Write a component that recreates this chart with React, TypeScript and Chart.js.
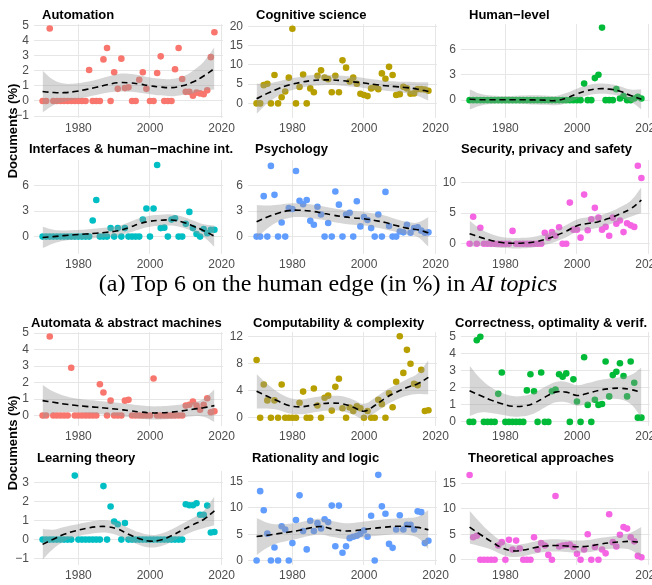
import React, { useEffect, useRef } from "react";
import { Chart, registerables } from "chart.js";

Chart.register(...registerables);

// ---------- shared axes ----------
const YEARS = [1970, 1971, 1972, 1973, 1974, 1975, 1976, 1977, 1978, 1979, 1980, 1981, 1982, 1983, 1984, 1985, 1986, 1987, 1988, 1989, 1990, 1991, 1992, 1993, 1994, 1995, 1996, 1997, 1998, 1999, 2000, 2001, 2002, 2003, 2004, 2005, 2006, 2007, 2008, 2009, 2010, 2011, 2012, 2013, 2014, 2015, 2016, 2017, 2018];
const FIT_YEARS = [1970, 1973, 1976, 1979, 1982, 1985, 1988, 1991, 1994, 1997, 2000, 2003, 2006, 2009, 2012, 2015, 2018];
const X_TICKS = [1980, 2000, 2020];

// ---------- (a) top group ----------
const AUTOMATION_PTS = [0, 0, 4.8, 0, 0, 0, 0, 0, 0, 0, 0, 0, 0, 2.05, 0, 0, 0, 2.75, 3.5, 0, 1.9, 0.8, 2.8, 0.85, 0.9, 0, 0, 1.4, 1.9, 0.8, 0, 0, 1.85, 2.95, 0, 0, 0, 2.1, 3.5, 1.45, 0.6, 0.6, 0.35, 0.55, 0.5, 0.45, 0.7, 2.9, 4.55];
const AUTOMATION_FIT = [0.62, 0.56, 0.55, 0.62, 0.75, 0.9, 1.07, 1.2, 1.2, 1.12, 1.0, 0.92, 0.88, 1.0, 1.25, 1.65, 2.15];
const AUTOMATION_HI = [2.0, 1.4, 1.15, 1.15, 1.25, 1.4, 1.6, 1.78, 1.8, 1.7, 1.55, 1.47, 1.45, 1.6, 2.0, 2.6, 3.55];
const AUTOMATION_LO = [-0.76, -0.28, -0.05, 0.09, 0.25, 0.4, 0.54, 0.62, 0.6, 0.54, 0.45, 0.37, 0.31, 0.4, 0.5, 0.7, 0.75];

const COGNITIVE_PTS = [0, 0, 4.75, 5.1, 0, 7.4, 0, 1.6, 3.1, 6.7, 19.4, 0, 4.25, 7.5, 0, 3.9, 2.9, 7.2, 8.6, 6.7, 6.3, 2.9, 7.2, 2.9, 11.2, 9.3, 5.7, 6.7, 5.1, 2.5, 2.2, 1.9, 3.9, 4.25, 3.7, 7.8, 6.4, 9.5, 7.4, 2.2, 2.4, 4.3, 3.9, 2.5, 2.6, 3.7, 3.7, 3.6, 3.3];
const COGNITIVE_FIT = [1.2, 2.6, 3.8, 4.8, 5.4, 5.9, 6.1, 6.1, 5.9, 5.6, 5.3, 4.9, 4.6, 4.35, 4.1, 3.7, 3.1];
const COGNITIVE_HI = [5.1, 5.2, 5.7, 6.4, 6.85, 7.3, 7.45, 7.4, 7.2, 6.9, 6.6, 6.2, 5.9, 5.7, 5.6, 5.5, 5.5];
const COGNITIVE_LO = [-2.7, 0.0, 1.9, 3.2, 3.95, 4.5, 4.75, 4.8, 4.6, 4.3, 4.0, 3.6, 3.3, 3.0, 2.6, 1.9, 0.7];

const HUMAN_PTS = [0, 0, 0, 0, 0, 0, 0, 0, 0, 0, 0, 0, 0, 0, 0, 0, 0, 0, 0, 0, 0, 0, 0, 0, 0, 0, 0, 0, 0, 0, 0, 0, 1.95, 0, 0, 2.6, 3.0, 8.55, 0, 0, 0, 1.3, 0.2, 0.5, 0, 0, 0.2, 0.4, 0.2];
const HUMAN_FIT = [0.1, 0.05, 0.05, 0.05, 0.05, 0.05, 0.03, 0.0, -0.05, 0.25, 0.75, 1.15, 1.35, 1.3, 1.05, 0.55, 0.1];
const HUMAN_HI = [1.3, 0.75, 0.55, 0.5, 0.5, 0.55, 0.58, 0.55, 0.5, 0.85, 1.35, 1.75, 1.95, 1.9, 1.65, 1.25, 1.3];
const HUMAN_LO = [-1.1, -0.65, -0.45, -0.4, -0.4, -0.45, -0.52, -0.55, -0.6, -0.35, 0.15, 0.55, 0.75, 0.7, 0.45, -0.15, -1.1];

const INTERFACES_PTS = [0, 0, 0, 0, 0, 0, 0, 0, 0, 0, 0, 0, 0, 0, 1.9, 4.3, 0, 0, 0, 1.0, 0, 1.0, 0, 1.0, 0, 0, 0, 0, 2.0, 3.3, 0, 3.3, 8.4, 1.0, 1.05, 0, 2.0, 2.15, 0, 0, 1.5, 2.9, 1.0, 0.3, 0, 0.9, 0.4, 0.8, 0.8];
const INTERFACES_FIT = [-0.1, 0.0, 0.12, 0.22, 0.3, 0.4, 0.52, 0.68, 1.05, 1.5, 1.8, 1.92, 1.95, 1.72, 1.25, 0.7, 0.05];
const INTERFACES_HI = [1.15, 0.8, 0.72, 0.77, 0.85, 0.95, 1.07, 1.23, 1.65, 2.15, 2.45, 2.57, 2.6, 2.37, 1.9, 1.45, 1.3];
const INTERFACES_LO = [-1.35, -0.8, -0.48, -0.33, -0.25, -0.15, -0.03, 0.13, 0.45, 0.85, 1.15, 1.27, 1.3, 1.07, 0.6, -0.05, -1.2];

const PSYCHOLOGY_PTS = [0, 0, 4.75, 0, 8.3, 4.9, 0, 1.65, 0, 3.35, 3.25, 7.7, 4.2, 3.8, 4.3, 1.85, 1.4, 3.5, 2.6, 0, 1.6, 0, 5.3, 3.75, 0, 2.6, 2.8, 0, 4.15, 1.2, 2.3, 1.95, 1.0, 0, 2.6, 0, 5.25, 1.25, 0, 0, 0.6, 0.5, 1.4, 0.45, 1.0, 1.1, 0.7, 0.45, 0.5];
const PSYCHOLOGY_FIT = [1.75, 2.3, 2.75, 3.05, 3.1, 3.0, 2.8, 2.55, 2.35, 2.2, 2.1, 1.9, 1.65, 1.3, 1.0, 0.8, 0.45];
const PSYCHOLOGY_HI = [3.7, 3.65, 3.75, 3.9, 3.9, 3.8, 3.6, 3.35, 3.15, 3.0, 2.9, 2.7, 2.45, 2.05, 1.75, 1.65, 2.3];
const PSYCHOLOGY_LO = [-0.2, 0.95, 1.75, 2.2, 2.3, 2.2, 2.0, 1.75, 1.55, 1.4, 1.3, 1.1, 0.85, 0.55, 0.25, -0.05, -1.2];

const SECURITY_PTS = [0, 4.4, 0, 2.6, 0, 0, 0, 0, 0, 0, 0, 0, 2.1, 0, 0, 0, 0, 0, 0, 0, 0, 1.8, 1.0, 1.9, 1.3, 2.7, 0, 0, 6.7, 2.3, 2.3, 1.0, 8.0, 2.2, 4.0, 5.85, 4.25, 2.3, 2.75, 1.3, 4.25, 3.25, 3.8, 1.9, 3.35, 3.0, 2.75, 12.7, 10.7];
const SECURITY_FIT = [1.65, 1.05, 0.55, 0.2, 0.1, 0.12, 0.3, 0.7, 1.3, 2.05, 2.95, 3.3, 3.6, 4.15, 4.85, 5.7, 7.1];
const SECURITY_HI = [3.75, 2.45, 1.6, 1.1, 0.95, 0.97, 1.15, 1.6, 2.25, 3.05, 3.95, 4.3, 4.6, 5.15, 5.95, 7.0, 9.2];
const SECURITY_LO = [-0.45, -0.35, -0.5, -0.7, -0.75, -0.73, -0.55, -0.2, 0.35, 1.05, 1.95, 2.3, 2.6, 3.15, 3.75, 4.4, 5.0];

// ---------- bottom group ----------
const AUTOMATA_PTS = [0, 0, 4.8, 0, 0, 0, 0, 0, 2.9, 0, 0, 0, 0, 0, 0, 0, 1.9, 1.4, 0, 0.9, 0, 0, 0, 0.9, 0.95, 0, 0, 0, 0, 0, 0, 2.25, 0, 0, 0, 0, 0, 0, 0, 0, 0.6, 0.65, 0.85, 0.6, 0.35, 0.65, 1.05, 0.2, 0.25];
const AUTOMATA_FIT = [0.9, 0.8, 0.7, 0.62, 0.55, 0.5, 0.44, 0.38, 0.3, 0.22, 0.16, 0.16, 0.2, 0.28, 0.38, 0.47, 0.6];
const AUTOMATA_HI = [1.85, 1.45, 1.2, 1.04, 0.95, 0.9, 0.84, 0.78, 0.7, 0.62, 0.56, 0.56, 0.6, 0.68, 0.8, 1.02, 1.6];
const AUTOMATA_LO = [-0.25, 0.15, 0.2, 0.2, 0.15, 0.1, 0.04, -0.02, -0.1, -0.18, -0.24, -0.24, -0.2, -0.12, -0.04, -0.08, -0.4];

const COMPUT_PTS = [8.5, 0, 4.9, 2.55, 0, 2.55, 0, 4.9, 0, 0, 0, 0, 2.2, 3.85, 0, 0, 4.3, 1.8, 0, 2.95, 3.25, 1.05, 4.55, 5.75, 1.4, 0, 1.5, 1.0, 1.7, 1.4, 0, 1.0, 0, 0, 2.65, 2.0, 0, 3.6, 1.55, 5.3, 12.0, 6.6, 10.0, 7.95, 5.0, 4.8, 7.05, 1.0, 1.1];
const COMPUT_FIT = [3.9, 3.15, 2.45, 1.8, 1.6, 1.8, 2.05, 2.15, 2.05, 1.55, 0.95, 1.8, 2.9, 3.75, 4.45, 5.0, 5.95];
const COMPUT_HI = [6.45, 4.95, 3.75, 2.95, 2.7, 2.9, 3.15, 3.25, 3.15, 2.65, 2.05, 2.9, 4.0, 4.85, 5.65, 6.5, 8.45];
const COMPUT_LO = [1.35, 1.35, 1.15, 0.65, 0.5, 0.7, 0.95, 1.05, 0.95, 0.45, -0.15, 0.7, 1.8, 2.65, 3.25, 3.5, 3.45];

const CORRECT_PTS = [0, 0, 4.8, 5.0, 0, 0, 0, 0, 1.65, 2.9, 0, 0, 0, 0, 0, 0, 1.85, 2.8, 1.8, 0, 2.9, 0, 0, 1.8, 1.9, 2.8, 2.65, 2.85, 0, 2.5, 1.2, 0, 3.8, 1.0, 0, 1.3, 1.0, 1.05, 3.55, 1.5, 2.75, 2.95, 3.45, 2.7, 1.5, 3.55, 2.3, 0.25, 0.25];
const CORRECT_FIT = [1.83, 1.55, 1.28, 1.07, 0.92, 0.93, 1.1, 1.45, 1.75, 1.75, 1.55, 1.68, 1.85, 1.95, 1.98, 1.9, 1.73];
const CORRECT_HI = [3.3, 2.55, 2.03, 1.72, 1.52, 1.53, 1.7, 2.05, 2.35, 2.35, 2.15, 2.28, 2.45, 2.55, 2.63, 2.75, 3.2];
const CORRECT_LO = [0.35, 0.55, 0.53, 0.42, 0.32, 0.33, 0.5, 0.85, 1.15, 1.15, 0.95, 1.08, 1.25, 1.35, 1.33, 1.05, 0.25];

const LEARNING_PTS = [0, 0, 0, 0, 0, 0, 0, 0, 0, 3.35, 0, 0, 0, 0, 0, 0, 0, 2.8, 0, 1.73, 0.95, 0.8, 0, 0.87, 0, 0, 0, 0, 0, 0, 0, 0, 0, 0, 0, 0, 0, 0, 0, 0, 1.85, 1.8, 1.8, 1.9, 1.3, 1.3, 1.78, 0.37, 0.4];
const LEARNING_FIT = [-0.25, 0.02, 0.28, 0.45, 0.58, 0.67, 0.68, 0.55, 0.28, 0.05, -0.08, -0.02, 0.2, 0.5, 0.78, 1.05, 1.5];
const LEARNING_HI = [0.55, 0.52, 0.66, 0.78, 0.9, 0.99, 1.0, 0.88, 0.61, 0.38, 0.25, 0.31, 0.53, 0.83, 1.13, 1.5, 2.25];
const LEARNING_LO = [-1.05, -0.48, -0.1, 0.12, 0.26, 0.35, 0.36, 0.22, -0.05, -0.28, -0.41, -0.35, -0.13, 0.17, 0.43, 0.6, 0.75];

const RATIONALITY_PTS = [0, 13.2, 9.55, 5.1, 0, 2.45, 0, 6.5, 5.9, 0, 3.3, 7.7, 12.4, 5.6, 2.1, 7.55, 5.6, 7.1, 6.1, 7.85, 7.3, 10.45, 2.7, 10.45, 1.45, 2.7, 4.25, 4.5, 4.7, 5.1, 5.7, 4.5, 8.5, 0, 16.3, 10.3, 8.9, 3.15, 2.4, 5.9, 8.6, 5.9, 6.8, 6.8, 5.9, 9.35, 9.2, 3.3, 3.75];
const RATIONALITY_FIT = [4.55, 4.8, 5.1, 5.4, 5.75, 6.2, 6.45, 6.0, 5.65, 5.65, 5.9, 6.15, 6.35, 6.5, 6.5, 6.3, 5.85];
const RATIONALITY_HI = [8.1, 7.2, 6.9, 7.0, 7.25, 7.7, 7.95, 7.5, 7.15, 7.15, 7.4, 7.65, 7.85, 8.0, 8.1, 8.3, 9.6];
const RATIONALITY_LO = [1.0, 2.4, 3.3, 3.8, 4.25, 4.7, 4.95, 4.5, 4.15, 4.15, 4.4, 4.65, 4.85, 5.0, 4.9, 4.3, 2.1];

const THEORY_PTS = [16.6, 4.4, 4.7, 0, 0, 0, 0, 0, 2.8, 3.45, 0, 3.9, 2.0, 3.75, 2.2, 0, 0, 0, 4.4, 2.0, 3.25, 2.8, 0.95, 0, 12.5, 2.6, 2.8, 2.9, 3.0, 2.5, 1.15, 0, 2.0, 5.0, 0, 2.5, 0, 2.0, 1.25, 8.9, 3.45, 2.6, 4.9, 6.4, 6.1, 4.4, 3.6, 0.75, 0.5];
const THEORY_FIT = [6.4, 4.95, 3.6, 2.35, 1.75, 1.9, 2.35, 2.7, 2.8, 2.7, 2.55, 2.65, 3.0, 3.3, 3.5, 3.6, 3.4];
const THEORY_HI = [9.6, 7.25, 5.2, 3.65, 2.95, 3.1, 3.55, 3.9, 4.0, 3.9, 3.75, 3.85, 4.2, 4.5, 4.8, 5.3, 6.4];
const THEORY_LO = [3.2, 2.65, 2.0, 1.05, 0.55, 0.7, 1.15, 1.5, 1.6, 1.5, 1.35, 1.45, 1.8, 2.1, 2.2, 1.9, 0.4];

// ---------- colours ----------
const C_RED = "#F8766D";
const C_OLIVE = "#B79F00";
const C_GREEN = "#00BA38";
const C_TEAL = "#00BFC4";
const C_BLUE = "#619CFF";
const C_PINK = "#F564E3";

type Spec = {
  title: string; color: string; pts: number[]; fit: number[]; hi: number[]; lo: number[];
  yMin: number; yMax: number; yTicks: number[]; row: number; col: number; titleX: number;
};

const PANELS: Spec[] = [
  { title: "Automation", color: C_RED, pts: AUTOMATION_PTS, fit: AUTOMATION_FIT, hi: AUTOMATION_HI, lo: AUTOMATION_LO, yMin: -1.13, yMax: 5.08, yTicks: [-1, 0, 1, 2, 3, 4, 5], row: 0, col: 0, titleX: 42 },
  { title: "Cognitive science", color: C_OLIVE, pts: COGNITIVE_PTS, fit: COGNITIVE_FIT, hi: COGNITIVE_HI, lo: COGNITIVE_LO, yMin: -3.8, yMax: 20.6, yTicks: [0, 5, 10, 15, 20], row: 0, col: 1, titleX: 256 },
  { title: "Human\u2212level", color: C_GREEN, pts: HUMAN_PTS, fit: HUMAN_FIT, hi: HUMAN_HI, lo: HUMAN_LO, yMin: -2.1, yMax: 8.95, yTicks: [0, 3, 6], row: 0, col: 2, titleX: 469 },
  { title: "Interfaces & human\u2212machine int.", color: C_TEAL, pts: INTERFACES_PTS, fit: INTERFACES_FIT, hi: INTERFACES_HI, lo: INTERFACES_LO, yMin: -2.04, yMax: 8.97, yTicks: [0, 3, 6], row: 1, col: 0, titleX: 29 },
  { title: "Psychology", color: C_BLUE, pts: PSYCHOLOGY_PTS, fit: PSYCHOLOGY_FIT, hi: PSYCHOLOGY_HI, lo: PSYCHOLOGY_LO, yMin: -2.04, yMax: 8.97, yTicks: [0, 3, 6], row: 1, col: 1, titleX: 255 },
  { title: "Security, privacy and safety", color: C_PINK, pts: SECURITY_PTS, fit: SECURITY_FIT, hi: SECURITY_HI, lo: SECURITY_LO, yMin: -1.66, yMax: 13.6, yTicks: [0, 5, 10], row: 1, col: 2, titleX: 461 },
  { title: "Automata & abstract machines", color: C_RED, pts: AUTOMATA_PTS, fit: AUTOMATA_FIT, hi: AUTOMATA_HI, lo: AUTOMATA_LO, yMin: -0.64, yMax: 5.06, yTicks: [0, 1, 2, 3, 4, 5], row: 2, col: 0, titleX: 31 },
  { title: "Computability & complexity", color: C_OLIVE, pts: COMPUT_PTS, fit: COMPUT_FIT, hi: COMPUT_HI, lo: COMPUT_LO, yMin: -1.22, yMax: 12.6, yTicks: [0, 4, 8, 12], row: 2, col: 1, titleX: 253 },
  { title: "Correctness, optimality & verif.", color: C_GREEN, pts: CORRECT_PTS, fit: CORRECT_FIT, hi: CORRECT_HI, lo: CORRECT_LO, yMin: -0.24, yMax: 5.27, yTicks: [0, 1, 2, 3, 4, 5], row: 2, col: 2, titleX: 455 },
  { title: "Learning theory", color: C_TEAL, pts: LEARNING_PTS, fit: LEARNING_FIT, hi: LEARNING_HI, lo: LEARNING_LO, yMin: -1.33, yMax: 3.58, yTicks: [-1, 0, 1, 2, 3], row: 3, col: 0, titleX: 37 },
  { title: "Rationality and logic", color: C_BLUE, pts: RATIONALITY_PTS, fit: RATIONALITY_FIT, hi: RATIONALITY_HI, lo: RATIONALITY_LO, yMin: -0.87, yMax: 17.0, yTicks: [0, 5, 10, 15], row: 3, col: 1, titleX: 252 },
  { title: "Theoretical approaches", color: C_PINK, pts: THEORY_PTS, fit: THEORY_FIT, hi: THEORY_HI, lo: THEORY_LO, yMin: -1.03, yMax: 17.35, yTicks: [0, 5, 10, 15], row: 3, col: 2, titleX: 468 },
];

// ---------- layout ----------
const COL_X0 = [34, 248, 461];
const ROW_Y0 = [20, 156, 328, 467];
const TITLE_CY = [14.5, 148.5, 322.5, 458];
const PLOT_W = 189;
const PLOT_H = 98;
const PAD_L = 30;
const PAD_T = 8;
const PAD_R = 18;
const X_AXIS_H = 22;
const X_MIN = 1967.6;
const X_MAX = 2020.4;

const SANS = '"Liberation Sans", Arial, Helvetica, sans-serif';
const GRID = "#E6E6E6";
const TICK_COLOR = "#4D4D4D";

function fmt(v: number): string {
  return v < 0 ? "\u2212" + Math.abs(v) : String(v);
}

function Panel({ spec }: { spec: Spec }) {
  const ref = useRef<HTMLCanvasElement>(null);
  const x0 = COL_X0[spec.col];
  const y0 = ROW_Y0[spec.row];
  const W = PLOT_W + PAD_L + PAD_R;
  const H = PLOT_H + PAD_T + X_AXIS_H;

  useEffect(() => {
    const canvas = ref.current;
    if (!canvas) return;
    const chart = new Chart(canvas, {
      type: "scatter",
      data: {
        datasets: [
          {
            type: "scatter",
            data: YEARS.map((x, i) => ({ x, y: spec.pts[i] })),
            backgroundColor: spec.color,
            borderColor: spec.color,
            borderWidth: 0,
            pointRadius: 3.3,
            pointHoverRadius: 3.3,
            order: 4,
          },
          {
            type: "line",
            data: FIT_YEARS.map((x, i) => ({ x, y: spec.lo[i] })),
            borderColor: "transparent",
            borderWidth: 0,
            pointRadius: 0,
            tension: 0.4,
            fill: false,
            order: 3,
          },
          {
            type: "line",
            data: FIT_YEARS.map((x, i) => ({ x, y: spec.hi[i] })),
            borderColor: "transparent",
            borderWidth: 0,
            pointRadius: 0,
            tension: 0.4,
            fill: "-1",
            backgroundColor: "rgba(153,153,153,0.4)",
            order: 2,
          },
          {
            type: "line",
            data: FIT_YEARS.map((x, i) => ({ x, y: spec.fit[i] })),
            borderColor: "#000000",
            borderWidth: 1.6,
            borderDash: [6, 4],
            pointRadius: 0,
            tension: 0.4,
            fill: false,
            order: 1,
          },
        ],
      },
      options: {
        animation: false,
        responsive: false,
        devicePixelRatio: 1,
        layout: { padding: { top: PAD_T, right: PAD_R, bottom: 0, left: 0 } },
        plugins: { legend: { display: false }, tooltip: { enabled: false }, title: { display: false } },
        scales: {
          x: {
            type: "linear",
            min: X_MIN,
            max: X_MAX,
            afterBuildTicks: (s: any) => { s.ticks = X_TICKS.map((v) => ({ value: v })); },
            afterFit: (s: any) => { s.height = X_AXIS_H; },
            grid: { color: GRID, lineWidth: 1, drawTicks: false },
            border: { display: false },
            ticks: {
              padding: 3,
              color: TICK_COLOR,
              font: { family: SANS, size: 12 },
              maxRotation: 0,
              autoSkip: false,
              callback: (v: any) => String(v),
            },
          },
          y: {
            type: "linear",
            min: spec.yMin,
            max: spec.yMax,
            afterBuildTicks: (s: any) => { s.ticks = spec.yTicks.map((v) => ({ value: v })); },
            afterFit: (s: any) => { s.width = PAD_L; },
            grid: { color: GRID, lineWidth: 1, drawTicks: false },
            border: { display: false },
            ticks: {
              padding: 5,
              color: TICK_COLOR,
              font: { family: SANS, size: 12 },
              autoSkip: false,
              callback: (v: any) => fmt(Number(v)),
            },
          },
        },
      },
    } as any);
    return () => chart.destroy();
  }, []);

  return (
    <>
      <canvas
        ref={ref}
        width={W}
        height={H}
        style={{ position: "absolute", left: x0 - PAD_L, top: y0 - PAD_T, width: W, height: H }}
      />
      <div
        style={{
          position: "absolute",
          left: spec.titleX,
          top: TITLE_CY[spec.row] - 8,
          height: 16,
          lineHeight: "16px",
          fontFamily: SANS,
          fontWeight: "bold",
          fontSize: 13,
          color: "#000",
          whiteSpace: "nowrap",
        }}
      >
        {spec.title}
      </div>
    </>
  );
}

function YTitle({ cy }: { cy: number }) {
  return (
    <div
      style={{
        position: "absolute",
        left: 13 - 70,
        top: cy - 8,
        width: 140,
        height: 16,
        lineHeight: "16px",
        textAlign: "center",
        fontFamily: SANS,
        fontWeight: "bold",
        fontSize: 13,
        color: "#000",
        transform: "rotate(-90deg)",
        transformOrigin: "center center",
        whiteSpace: "nowrap",
      }}
    >
      Documents (%)
    </div>
  );
}

export default function App() {
  return (
    <div
      style={{
        position: "absolute",
        left: 0,
        top: 0,
        width: 652,
        height: 585,
        overflow: "hidden",
        background: "#ffffff",
      }}
    >
      {PANELS.map((p) => (
        <Panel key={p.title} spec={p} />
      ))}
      <YTitle cy={131} />
      <YTitle cy={443} />
      <div
        style={{
          position: "absolute",
          left: 2,
          top: 269,
          width: 652,
          height: 28,
          lineHeight: "28px",
          textAlign: "center",
          fontFamily: '"Liberation Serif", "Times New Roman", Times, serif',
          fontSize: 24,
          color: "#000",
          whiteSpace: "nowrap",
        }}
      >
        (a) Top 6 on the human edge (in %) in <i>AI topics</i>
      </div>
    </div>
  );
}
